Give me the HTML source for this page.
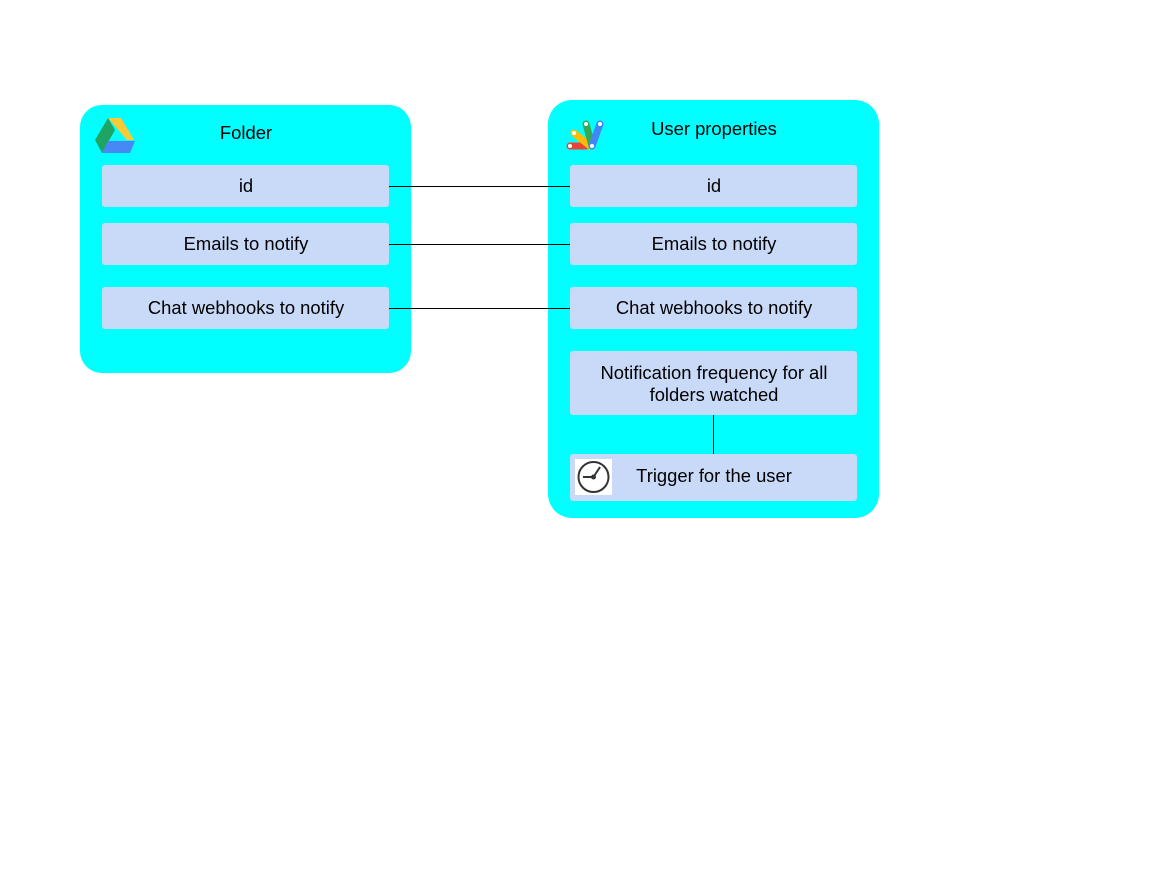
<!DOCTYPE html>
<html><head><style>body{margin:0;background:#fff}svg text{font-family:"Liberation Sans",Arial,sans-serif;font-size:18.4px;fill:#000}</style></head>
<body>
<svg width="1152" height="864" viewBox="0 0 1152 864" xmlns="http://www.w3.org/2000/svg">
<rect x="80" y="105" width="331" height="268" rx="22" fill="#00ffff"/>
<rect x="548" y="100" width="331" height="418" rx="24" fill="#00ffff"/>
<g fill="#c9daf8">
<rect x="102" y="165" width="287" height="42" rx="3"/>
<rect x="102" y="223" width="287" height="42" rx="3"/>
<rect x="102" y="287" width="287" height="42" rx="3"/>
<rect x="570" y="165" width="287" height="42" rx="3"/>
<rect x="570" y="223" width="287" height="42" rx="3"/>
<rect x="570" y="287" width="287" height="42" rx="3"/>
<rect x="570" y="351" width="287" height="64" rx="3"/>
<rect x="570" y="454" width="287" height="47" rx="3"/>
</g>
<g stroke="#000" stroke-width="1">
<line x1="389" y1="186.5" x2="570" y2="186.5"/>
<line x1="389" y1="244.5" x2="570" y2="244.5"/>
<line x1="389" y1="308.5" x2="570" y2="308.5"/>
<line x1="713.5" y1="415" x2="713.5" y2="454"/>
</g>
<polygon points="108,118 121,118 134,140 127,140" fill="#fbc934"/>
<polygon points="108,118 95,140 102,153 115,130" fill="#1fa463"/>
<polygon points="102,153 130,153 135,141 108,141" fill="#4688f4"/>
<g stroke-linecap="round" stroke-width="7">
<line x1="570" y1="146" x2="586" y2="146" stroke="#ea4335"/>
<line x1="574" y1="133" x2="590" y2="146" stroke="#fbbc04"/>
<line x1="586" y1="124" x2="592" y2="146" stroke="#34a853"/>
<line x1="600" y1="124" x2="592" y2="146" stroke="#4285f4"/>
</g>
<g fill="#fff"><circle cx="570" cy="146" r="2"/><circle cx="574" cy="133" r="2"/><circle cx="586" cy="124" r="2"/><circle cx="600" cy="124" r="2"/><circle cx="592" cy="146" r="2"/></g>
<rect x="575" y="459" width="37" height="36" fill="#fff"/>
<circle cx="593.5" cy="477" r="15" fill="none" stroke="#333" stroke-width="2"/>
<line x1="593.5" y1="477" x2="600" y2="467" stroke="#333" stroke-width="2"/>
<line x1="593.5" y1="477" x2="583" y2="477" stroke="#333" stroke-width="2"/>
<circle cx="593.5" cy="477" r="2.5" fill="#333"/>
<g text-anchor="middle">
<text x="246" y="139">Folder</text>
<text x="714" y="135">User properties</text>
<text x="246" y="192">id</text>
<text x="246" y="250">Emails to notify</text>
<text x="246" y="314">Chat webhooks to notify</text>
<text x="714" y="192">id</text>
<text x="714" y="250">Emails to notify</text>
<text x="714" y="314">Chat webhooks to notify</text>
<text x="714" y="379">Notification frequency for all</text>
<text x="714" y="401">folders watched</text>
<text x="714" y="482">Trigger for the user</text>
</g>
</svg>
</body></html>
